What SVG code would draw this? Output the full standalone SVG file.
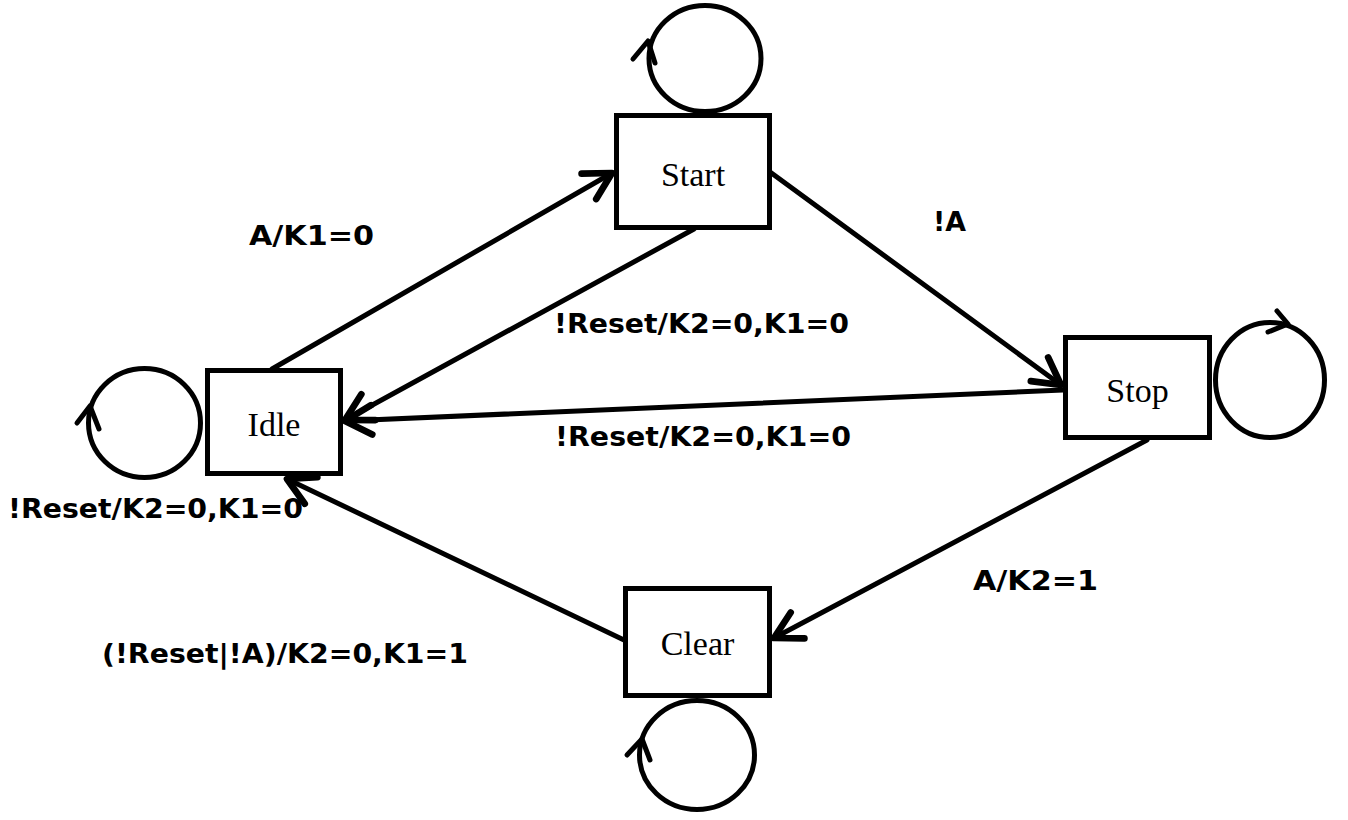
<svg xmlns="http://www.w3.org/2000/svg" width="1348" height="820" viewBox="0 0 1348 820">
<style>
.box{fill:#fff;stroke:#000;stroke-width:5}
.nt{font-family:"Liberation Serif","Times New Roman",serif;font-size:34px;text-anchor:middle;fill:#000}
.edge{fill:none;stroke:#000;stroke-width:5;stroke-linecap:round}
.loop{fill:none;stroke:#000;stroke-width:5}
.ah{fill:none;stroke:#000;stroke-width:5;stroke-linecap:round;stroke-linejoin:round}
.lbl{font-family:"DejaVu Sans","Liberation Sans",sans-serif;font-weight:bold;font-size:27px;fill:#000}
</style>
<defs>
<marker id="arr" markerUnits="userSpaceOnUse" markerWidth="40" markerHeight="40" refX="0" refY="0" viewBox="-25 -15 30 30" orient="auto" overflow="visible">
<path d="M-20,-11 L0,0 L-20,11" fill="none" stroke="#000" stroke-width="5" stroke-linecap="round" stroke-linejoin="round"/>
</marker>
</defs>
<rect width="1348" height="820" fill="#fff"/>
<g id="connectors">
<line class="edge" x1="272" y1="369" x2="612" y2="173" marker-end="url(#arr)"/>
<line class="edge" x1="694" y1="229" x2="345" y2="420" marker-end="url(#arr)"/>
<line class="edge" x1="770" y1="172" x2="1061" y2="385" marker-end="url(#arr)"/>
<line class="edge" x1="1063" y1="390" x2="345" y2="421" marker-end="url(#arr)"/>
<line class="edge" x1="1147" y1="440" x2="774" y2="638" marker-end="url(#arr)"/>
<line class="edge" x1="624" y1="640" x2="287" y2="479" marker-end="url(#arr)"/>
<ellipse class="loop" cx="705" cy="58.5" rx="56" ry="53"/>
<polyline class="ah" points="633,59 648,41 655,63"/>
<ellipse class="loop" cx="1270" cy="380" rx="54.5" ry="57.5"/>
<polyline class="ah" points="1277,311 1288,324 1268,332"/>
<ellipse class="loop" cx="144.5" cy="423" rx="56" ry="54.5"/>
<polyline class="ah" points="77,423 90,406 99,429"/>
<ellipse class="loop" cx="697" cy="755" rx="57.5" ry="54.5"/>
<polyline class="ah" points="627,755 642,739 650,760"/>
</g>
<g id="start"><rect class="box" x="616.5" y="115.5" width="153" height="112"/><text class="nt" x="693" y="186">Start</text></g>
<g id="stop"><rect class="box" x="1065.5" y="337.5" width="144" height="100"/><text class="nt" x="1137.5" y="402">Stop</text></g>
<g id="idle"><rect class="box" x="207.5" y="370.5" width="133" height="103"/><text class="nt" x="274" y="436">Idle</text></g>
<g id="clear"><rect class="box" x="625.5" y="588.5" width="144" height="107"/><text class="nt" x="697.5" y="655">Clear</text></g>
<g id="labels">
<text class="lbl" x="249" y="245" textLength="125" lengthAdjust="spacingAndGlyphs">A/K1=0</text>
<text class="lbl" x="933" y="231" textLength="33" lengthAdjust="spacingAndGlyphs">!A</text>
<text class="lbl" x="554" y="333" textLength="295" lengthAdjust="spacingAndGlyphs">!Reset/K2=0,K1=0</text>
<text class="lbl" x="555" y="446" textLength="296" lengthAdjust="spacingAndGlyphs">!Reset/K2=0,K1=0</text>
<text class="lbl" x="8" y="518" textLength="295" lengthAdjust="spacingAndGlyphs">!Reset/K2=0,K1=0</text>
<text class="lbl" x="102" y="663" textLength="366" lengthAdjust="spacingAndGlyphs">(!Reset|!A)/K2=0,K1=1</text>
<text class="lbl" x="973" y="590" textLength="125" lengthAdjust="spacingAndGlyphs">A/K2=1</text>
</g>
</svg>
